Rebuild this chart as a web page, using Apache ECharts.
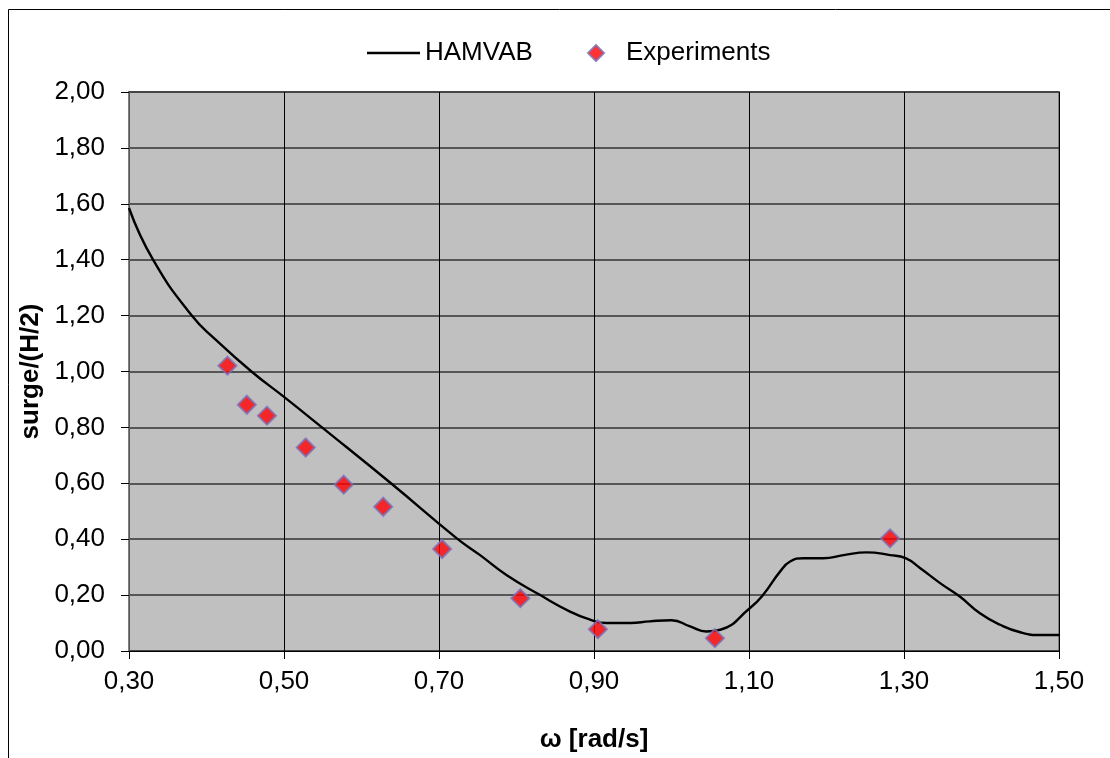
<!DOCTYPE html>
<html>
<head>
<meta charset="utf-8">
<script src="https://cdn.jsdelivr.net/npm/echarts@6/dist/echarts.min.js"></script>
<style>
html,body{margin:0;padding:0;background:#fff;}
#chart{width:1110px;height:758px;}
</style>
</head>
<body>
<div id="chart"></div>
<script>
// HAMVAB computed curve
var hamvabX = [0.300,0.331,0.381,0.411,0.458,0.500,0.549,0.638,0.723,0.753,0.787,0.830,0.869,0.895,0.916,0.947,0.972,1.000,1.024,1.045,1.063,1.101,1.118,1.140,1.153,1.170,1.196,1.222,1.252,1.282,1.302,1.321,1.347,1.372,1.398,1.424,1.450,1.476,1.500];
var hamvabY = [1.585,1.400,1.200,1.116,1.000,0.909,0.800,0.600,0.403,0.343,0.272,0.201,0.141,0.112,0.100,0.100,0.106,0.110,0.088,0.070,0.076,0.153,0.200,0.284,0.320,0.332,0.332,0.343,0.353,0.343,0.332,0.296,0.242,0.195,0.135,0.094,0.067,0.057,0.057];
// Experimental points
var expX = [0.427,0.452,0.478,0.528,0.577,0.628,0.704,0.805,0.905,1.056,1.282];
var expY = [1.021,0.881,0.842,0.728,0.595,0.516,0.365,0.189,0.078,0.046,0.403];
// Axis settings
var xMin = 0.30, xMax = 1.50, xStep = 0.20;
var yMin = 0.00, yMax = 2.00, yStep = 0.20;
var xTitle = 'ω [rad/s]';
var yTitle = 'surge/(H/2)';
var seriesNames = ['HAMVAB', 'Experiments'];

function pairs(xs, ys){ return xs.map(function(x,i){ return [x, ys[i]]; }); }
function fmt(v){ return (Math.round(v*100)/100).toFixed(2).replace('.', ','); }

var FONT = "'Liberation Sans', Arial, sans-serif";
var chart = echarts.init(document.getElementById('chart'), null, {renderer:'canvas'});
chart.setOption({
  animation: false,
  backgroundColor: '#ffffff',
  graphic: [{
    type: 'rect', silent: true, z: -10,
    shape: {x: 8.5, y: 9.5, width: 1300, height: 1000},
    style: {fill: 'none', stroke: '#000', lineWidth: 1}
  }],
  legend: [{
    data: [{name: seriesNames[0], icon: 'rect'}],
    left: 362, top: 35,
    itemWidth: 53, itemHeight: 2.5,
    itemStyle: {color: '#000'},
    textStyle: {fontFamily: FONT, fontSize: 26, color: '#000'}
  }, {
    data: [{name: seriesNames[1], icon: 'diamond'}],
    left: 582, top: 35,
    itemWidth: 16, itemHeight: 16,
    textStyle: {fontFamily: FONT, fontSize: 26, color: '#000', padding: [0,0,0,17]}
  }],
  grid: {left: 129, top: 92, right: 51, bottom: 105, show: true,
    backgroundColor: '#C0C0C0', borderColor: '#808080', borderWidth: 2},
  xAxis: {
    type: 'value', min: xMin, max: xMax, interval: xStep,
    name: xTitle, nameLocation: 'middle', nameGap: 76,
    nameTextStyle: {fontFamily: FONT, fontSize: 26, fontWeight: 'bold', color: '#000'},
    axisLine: {show: true, onZero: false, lineStyle: {color: '#000', width: 1}},
    axisTick: {show: true, inside: false, length: 8, lineStyle: {color: '#000'}},
    axisLabel: {fontFamily: FONT, fontSize: 26, color: '#000', margin: 18, formatter: fmt},
    splitLine: {show: true, lineStyle: {color: '#000', width: 1}}
  },
  yAxis: {
    type: 'value', min: yMin, max: yMax, interval: yStep,
    name: yTitle, nameLocation: 'middle', nameGap: 76,
    nameTextStyle: {fontFamily: FONT, fontSize: 26, fontWeight: 'bold', color: '#000'},
    axisLine: {show: true, lineStyle: {color: '#555', width: 1}},
    axisTick: {show: true, inside: false, length: 8, lineStyle: {color: '#000'}},
    axisLabel: {fontFamily: FONT, fontSize: 26, color: '#000', margin: 24, formatter: fmt},
    splitLine: {show: true, lineStyle: {color: '#333', width: 1.5}}
  },
  series: [{
    name: seriesNames[0], type: 'line', data: pairs(hamvabX, hamvabY),
    smooth: 0.5, symbol: 'none', showSymbol: false,
    lineStyle: {color: '#000', width: 2.4}, itemStyle: {color: '#000'},
    z: 3
  }, {
    name: seriesNames[1], type: 'scatter', data: pairs(expX, expY),
    symbol: 'diamond', symbolSize: 18,
    itemStyle: {color: '#FF0000', borderColor: '#7C6FB6', borderWidth: 2},
    z: 4
  }]
});
</script>
</body>
</html>
